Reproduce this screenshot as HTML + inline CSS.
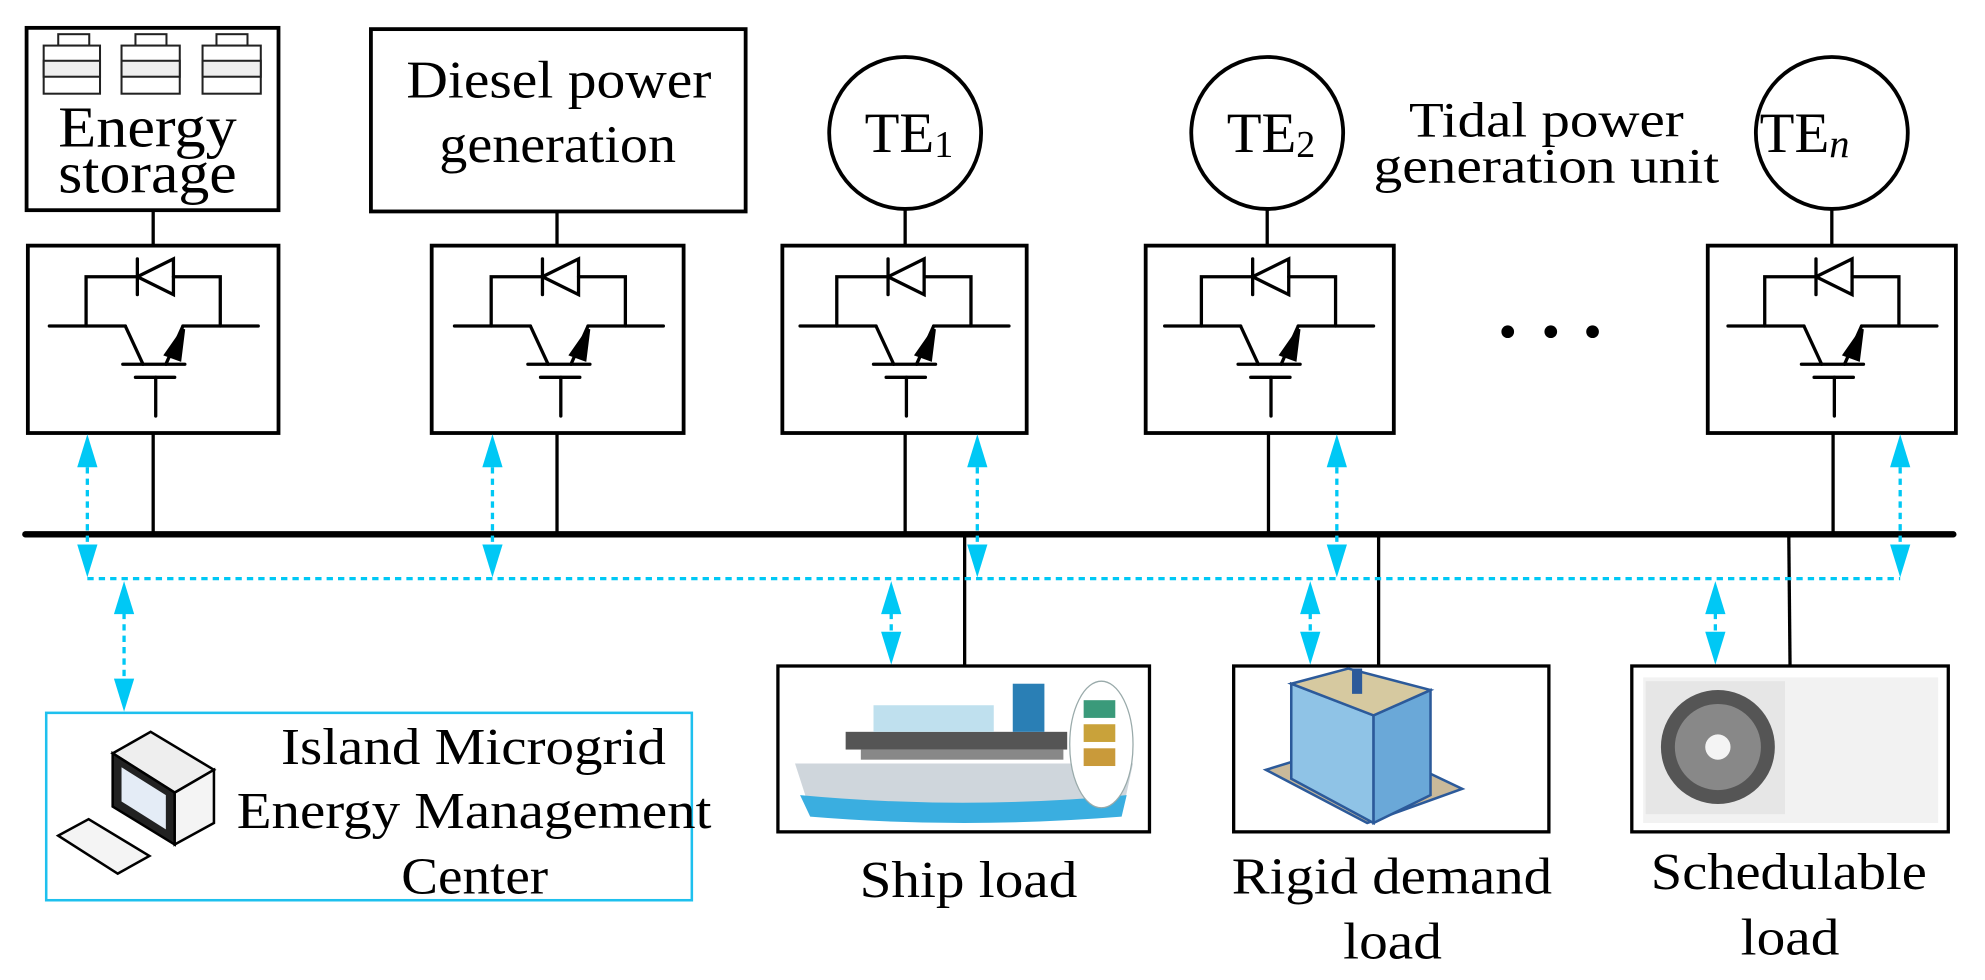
<!DOCTYPE html>
<html><head><meta charset="utf-8"><style>
html,body{margin:0;padding:0;background:#fff;}
svg{display:block;}
text{font-family:"Liberation Serif","Times New Roman",Times,serif;fill:#000;}
</style></head><body>
<svg width="1985" height="980" viewBox="0 0 1568 774" preserveAspectRatio="none" xmlns="http://www.w3.org/2000/svg" font-family="Liberation Serif, Times New Roman, serif">
<defs>
<g id="igbt" stroke="#000" stroke-width="2.6" fill="none" stroke-linecap="round">
  <line x1="-12.5" y1="204.5" x2="-12.5" y2="232.7"/>
  <polygon points="-12.5,218.6 16,204.5 16,232.7"/>
  <polyline points="-53,257.5 -53,218.6 -12.5,218.6"/>
  <polyline points="16,218.6 53,218.6 53,257.5"/>
  <line x1="-82" y1="257.5" x2="-22" y2="257.5"/>
  <line x1="-22" y1="257.5" x2="-8" y2="287.7"/>
  <line x1="-24" y1="287.7" x2="25" y2="287.7"/>
  <line x1="10" y1="287.7" x2="23.5" y2="257.5"/>
  <line x1="23.5" y1="257.5" x2="83" y2="257.5"/>
  <polygon points="24,260 10,280 21,284" fill="#000"/>
  <line x1="-14" y1="298" x2="17" y2="298"/>
  <line x1="2" y1="298" x2="2" y2="328.6"/>
</g>
<g id="upA"><polygon points="0,0 -8,26 8,26" fill="#00c8f5"/></g>
<g id="dnA"><polygon points="0,0 -8,-26 8,-26" fill="#00c8f5"/></g>
</defs>

<g stroke="#000" stroke-width="3" fill="none">
  <rect x="21" y="22" width="199" height="144"/>
  <rect x="293" y="23" width="296" height="144"/>
  <circle cx="715" cy="105" r="60"/>
  <circle cx="1001" cy="105" r="60"/>
  <circle cx="1447" cy="105" r="60"/>
  <rect x="22" y="194" width="198" height="148"/>
  <rect x="341" y="194" width="199" height="148"/>
  <rect x="618" y="194" width="193" height="148"/>
  <rect x="905" y="194" width="196" height="148"/>
  <rect x="1349" y="194" width="196" height="148"/>
</g>
<g stroke="#222" stroke-width="1.6">
  <g><rect x="46" y="27" width="24.5" height="9" fill="#fff"/><rect x="34.5" y="36" width="44.5" height="38" fill="#fff"/><rect x="34.5" y="48" width="44.5" height="12.6" fill="#eee"/></g>
  <g><rect x="107" y="27" width="24.5" height="9" fill="#fff"/><rect x="96" y="36" width="46" height="38" fill="#fff"/><rect x="96" y="48" width="46" height="12.6" fill="#eee"/></g>
  <g><rect x="171" y="27" width="24.5" height="9" fill="#fff"/><rect x="160" y="36" width="46" height="38" fill="#fff"/><rect x="160" y="48" width="46" height="12.6" fill="#eee"/></g>
</g>
<use href="#igbt" transform="translate(121,0)"/>
<use href="#igbt" transform="translate(441,0)"/>
<use href="#igbt" transform="translate(714,0)"/>
<use href="#igbt" transform="translate(1002,0)"/>
<use href="#igbt" transform="translate(1447,0)"/>

<g stroke="#000" stroke-width="2.6">
  <line x1="121" y1="166" x2="121" y2="194"/>
  <line x1="440" y1="167" x2="440" y2="194"/>
  <line x1="715" y1="165" x2="715" y2="194"/>
  <line x1="1001" y1="165" x2="1001" y2="194"/>
  <line x1="1447" y1="165" x2="1447" y2="194"/>
  <line x1="121" y1="342" x2="121" y2="422"/>
  <line x1="440" y1="342" x2="440" y2="422"/>
  <line x1="715" y1="342" x2="715" y2="422"/>
  <line x1="1002" y1="342" x2="1002" y2="422"/>
  <line x1="1448" y1="342" x2="1448" y2="422"/>
  <line x1="762" y1="422" x2="762" y2="526"/>
  <line x1="1089" y1="422" x2="1089" y2="526"/>
  <line x1="1413" y1="422" x2="1414" y2="526"/>
</g>
<line x1="20" y1="422" x2="1543" y2="422" stroke="#000" stroke-width="5" stroke-linecap="round"/>

<g stroke="#00c8f5" stroke-width="2.6" stroke-dasharray="5,4" fill="none">
  <line x1="69" y1="457" x2="1501" y2="457"/>
  <line x1="69" y1="360" x2="69" y2="440"/>
  <line x1="389" y1="360" x2="389" y2="440"/>
  <line x1="772" y1="360" x2="772" y2="440"/>
  <line x1="1056" y1="360" x2="1056" y2="440"/>
  <line x1="1501" y1="360" x2="1501" y2="440"/>
  <line x1="98" y1="475" x2="98" y2="545"/>
  <line x1="704" y1="475" x2="704" y2="508"/>
  <line x1="1035" y1="475" x2="1035" y2="508"/>
  <line x1="1355" y1="475" x2="1355" y2="508"/>
</g>
<use href="#upA" transform="translate(69,343)"/><use href="#dnA" transform="translate(69,456)"/>
<use href="#upA" transform="translate(389,343)"/><use href="#dnA" transform="translate(389,456)"/>
<use href="#upA" transform="translate(772,343)"/><use href="#dnA" transform="translate(772,456)"/>
<use href="#upA" transform="translate(1056,343)"/><use href="#dnA" transform="translate(1056,456)"/>
<use href="#upA" transform="translate(1501,343)"/><use href="#dnA" transform="translate(1501,456)"/>
<use href="#upA" transform="translate(98,459)"/><use href="#dnA" transform="translate(98,562)"/>
<use href="#upA" transform="translate(704,459)"/><use href="#dnA" transform="translate(704,525)"/>
<use href="#upA" transform="translate(1035,459)"/><use href="#dnA" transform="translate(1035,525)"/>
<use href="#upA" transform="translate(1355,459)"/><use href="#dnA" transform="translate(1355,525)"/>

<circle cx="1191" cy="262" r="5" fill="#000"/>
<circle cx="1225" cy="262" r="5" fill="#000"/>
<circle cx="1258" cy="262" r="5" fill="#000"/>

<g stroke="#000" stroke-width="2.6" fill="#fff">
  <rect x="614.5" y="526" width="293.5" height="131"/>
  <rect x="974.5" y="526" width="249" height="131"/>
  <rect x="1289" y="526" width="250" height="131"/>
</g>
<g>
  <path d="M628,603 L895,603 L887,640 Q760,652 640,640 Z" fill="#cfd6dc"/>
  <path d="M632,628 Q760,640 890,628 L886,645 Q760,655 640,645 Z" fill="#3aaee0"/>
  <rect x="668" y="578" width="175" height="14" fill="#555"/>
  <rect x="680" y="592" width="160" height="8" fill="#888"/>
  <rect x="690" y="557" width="95" height="21" fill="#bfe0ee"/>
  <rect x="800" y="540" width="25" height="38" fill="#2a7fb5"/>
  <ellipse cx="870" cy="588" rx="25" ry="50" fill="#fff" stroke="#9aa" stroke-width="1"/>
  <rect x="856" y="553" width="25" height="14" fill="#3a9a7a"/>
  <rect x="856" y="572" width="25" height="14" fill="#c9a23a"/>
  <rect x="856" y="591" width="25" height="14" fill="#c99a3a"/>
</g>
<g>
  <polygon points="1000,608 1080,650 1155,623 1075,585" fill="#c9b99a" stroke="#2c5a9a" stroke-width="2"/>
  <polygon points="1020,540 1085,565 1085,650 1020,615" fill="#8fc3e6" stroke="#2c5a9a" stroke-width="2"/>
  <polygon points="1085,565 1130,545 1130,628 1085,650" fill="#6aa8d8" stroke="#2c5a9a" stroke-width="2"/>
  <polygon points="1020,540 1085,565 1130,545 1065,528" fill="#d6c9a0" stroke="#2c5a9a" stroke-width="2"/>
  <rect x="1068" y="528" width="8" height="20" fill="#2c5a9a"/>
</g>
<g>
  <rect x="1298" y="535" width="233" height="115" fill="#f2f2f2"/>
  <rect x="1300" y="538" width="110" height="105" fill="#e6e6e6"/>
  <circle cx="1357" cy="590" r="45" fill="#555"/>
  <circle cx="1357" cy="590" r="34" fill="#888"/>
  <circle cx="1357" cy="590" r="10" fill="#f4f4f4"/>
</g>

<rect x="36.5" y="563" width="510" height="148" fill="none" stroke="#1ec0ee" stroke-width="2"/>
<g>
  <polygon points="89,595 119,578 169,608 138,626" fill="#eee" stroke="#000" stroke-width="2"/>
  <polygon points="89,595 138,626 138,667 89,637" fill="#222" stroke="#000" stroke-width="2"/>
  <polygon points="96,606 131,628 131,655 96,633" fill="#e4ecf6"/>
  <polygon points="138,626 169,608 169,650 138,667" fill="#f4f4f4" stroke="#000" stroke-width="2"/>
  <polygon points="46,660 70,647 118,676 93,690" fill="#f4f4f4" stroke="#000" stroke-width="2"/>
</g>

<text x="46" y="115.6" font-size="46" textLength="141" lengthAdjust="spacingAndGlyphs">Energy</text>
<text x="46" y="152" font-size="46" textLength="141" lengthAdjust="spacingAndGlyphs">storage</text>
<text x="321" y="77" font-size="42" textLength="241" lengthAdjust="spacingAndGlyphs">Diesel power</text>
<text x="347" y="128" font-size="42" textLength="187" lengthAdjust="spacingAndGlyphs">generation</text>
<text x="683" y="120" font-size="45">TE<tspan font-size="30" dy="4">1</tspan></text>
<text x="969" y="120" font-size="45">TE<tspan font-size="30" dy="4">2</tspan></text>
<text x="1390" y="120" font-size="45">TE<tspan font-size="32" dy="4" font-style="italic">n</tspan></text>
<text x="1113" y="108" font-size="39" textLength="217" lengthAdjust="spacingAndGlyphs">Tidal power</text>
<text x="1085" y="144" font-size="39" textLength="273" lengthAdjust="spacingAndGlyphs">generation unit</text>
<text x="222" y="603.5" font-size="41" textLength="304" lengthAdjust="spacingAndGlyphs">Island Microgrid</text>
<text x="187" y="654" font-size="41" textLength="375" lengthAdjust="spacingAndGlyphs">Energy Management</text>
<text x="317" y="705.5" font-size="41" textLength="116" lengthAdjust="spacingAndGlyphs">Center</text>
<text x="679" y="708.5" font-size="41" textLength="172" lengthAdjust="spacingAndGlyphs">Ship load</text>
<text x="973" y="705.6" font-size="41" textLength="253" lengthAdjust="spacingAndGlyphs">Rigid demand</text>
<text x="1061" y="757" font-size="41" textLength="78" lengthAdjust="spacingAndGlyphs">load</text>
<text x="1304" y="702" font-size="41" textLength="218" lengthAdjust="spacingAndGlyphs">Schedulable</text>
<text x="1375" y="754" font-size="41" textLength="78" lengthAdjust="spacingAndGlyphs">load</text>
</svg>
</body></html>
